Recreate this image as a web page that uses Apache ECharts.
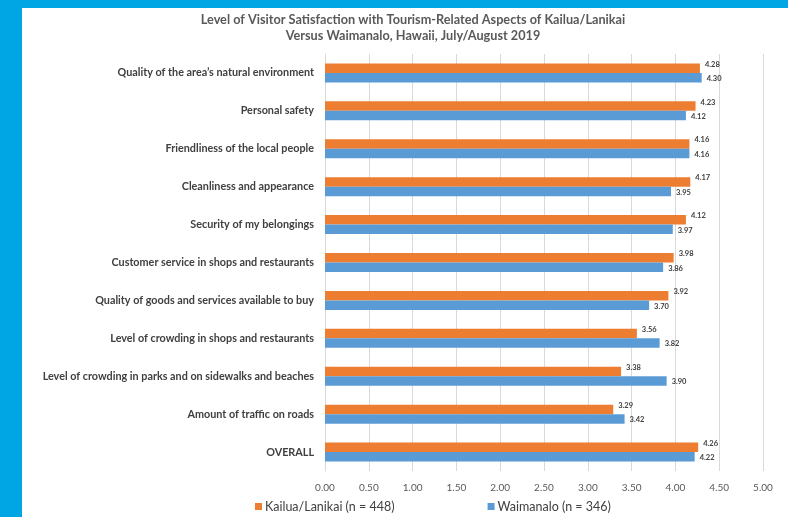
<!DOCTYPE html>
<html>
<head>
<meta charset="utf-8">
<script src="https://cdn.jsdelivr.net/npm/echarts@6/dist/echarts.min.js"></script>
<style>
  html, body { margin: 0; padding: 0; background: #ffffff; }
  #chart { width: 788px; height: 517px; }
</style>
</head>
<body>
<div id="chart"></div>
<script>
// Survey aspects, listed top to bottom
const aspects = [
  'Quality of the area\u2019s natural environment',
  'Personal safety',
  'Friendliness of the local people',
  'Cleanliness and appearance',
  'Security of my belongings',
  'Customer service in shops and restaurants',
  'Quality of goods and services available to buy',
  'Level of crowding in shops and restaurants',
  'Level of crowding in parks and on sidewalks and beaches',
  'Amount of traffic on roads',
  'OVERALL'
];

// Mean satisfaction scores per area
const kailuaLanikai = [4.28, 4.23, 4.16, 4.17, 4.12, 3.98, 3.92, 3.56, 3.38, 3.29, 4.26];
const waimanalo     = [4.30, 4.12, 4.16, 3.95, 3.97, 3.86, 3.70, 3.82, 3.90, 3.42, 4.22];

const seriesNames = ['Kailua/Lanikai (n = 448)', 'Waimanalo (n = 346)'];
const titleLines = [
  'Level of Visitor Satisfaction with Tourism-Related Aspects of Kailua/Lanikai',
  'Versus Waimanalo, Hawaii, July/August 2019'
];

const FONT = 'Lato';
const chart = echarts.init(document.getElementById('chart'), null, { renderer: 'canvas' });

function valueLabel(dy) {
  return {
    show: true,
    position: 'right',
    distance: 5,
    offset: [0, dy],
    fontFamily: FONT,
    fontSize: 7.5,
    fontWeight: 'bold',
    color: '#404040',
    formatter: p => p.value.toFixed(2)
  };
}

chart.setOption({
  backgroundColor: '#ffffff',
  animation: false,
  textStyle: { fontFamily: FONT },
  graphic: [
    { type: 'rect', left: 0, top: 0, z: -10, shape: { width: 788, height: 8 }, style: { fill: '#00a6e3' } },
    { type: 'rect', left: 0, top: 0, z: -10, shape: { width: 22, height: 517 }, style: { fill: '#00a6e3' } }
  ],
  title: {
    text: titleLines.join('\n'),
    left: 408,
    textAlign: 'center',
    top: 7,
    textStyle: { fontFamily: FONT, fontSize: 12.7, fontWeight: 'bold', color: '#595959', lineHeight: 16 }
  },
  legend: {
    bottom: -1,
    left: 250,
    itemWidth: 7,
    itemHeight: 7,
    itemGap: 93,
    icon: 'rect',
    textStyle: { fontFamily: FONT, fontSize: 12.5, color: '#404040', padding: [0, 0, 0, -2] },
    data: seriesNames
  },
  grid: { left: 325, right: 25, top: 54, bottom: 46 },
  xAxis: {
    type: 'value',
    min: 0,
    max: 5,
    interval: 0.5,
    axisLine: { show: false },
    axisTick: { show: false },
    splitLine: { lineStyle: { color: '#d9d9d9', width: 1 } },
    axisLabel: {
      margin: 12,
      fontFamily: FONT,
      fontSize: 10,
      color: '#595959',
      formatter: v => v.toFixed(2)
    }
  },
  yAxis: {
    type: 'category',
    inverse: true,
    data: aspects,
    axisLine: { show: true, lineStyle: { color: '#d9d9d9' } },
    axisTick: { show: false },
    axisLabel: { margin: 11, fontFamily: FONT, fontSize: 10.8, fontWeight: 'bold', color: '#404040' }
  },
  series: [
    {
      name: seriesNames[0],
      type: 'bar',
      data: kailuaLanikai,
      barWidth: 9.5,
      barGap: '0%',
      itemStyle: { color: '#ed7d31' },
      label: valueLabel(-4)
    },
    {
      name: seriesNames[1],
      type: 'bar',
      data: waimanalo,
      barWidth: 9.5,
      barGap: '0%',
      itemStyle: { color: '#5b9bd5' },
      label: valueLabel(1)
    }
  ]
});
</script>
</body>
</html>
